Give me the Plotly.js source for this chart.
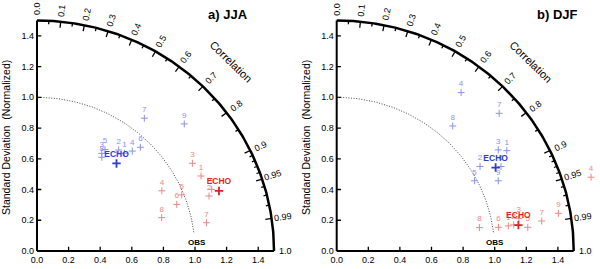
<!DOCTYPE html>
<html><head><meta charset="utf-8">
<script src="https://cdn.plot.ly/plotly-3.0.1.min.js"></script>
<style>html,body{margin:0;padding:0;background:#fff;}</style>
</head><body>
<div id="chart" style="width:600px;height:269px;"></div>
<script>
// ---- data (normalized standard deviation, correlation) ----
const modelLabels = ['1','2','3','4','5','6','7','8','9'];

// a) JJA
const jjaBlueStd  = [0.843, 0.836, 0.756, 0.887, 0.788, 0.940, 1.099, 0.735, 1.246];
const jjaBlueCorr = [0.656, 0.618, 0.542, 0.680, 0.546, 0.696, 0.618, 0.558, 0.748];
const jjaRedStd   = [1.147, 1.146, 1.137, 0.882, 0.986, 0.935, 1.088, 0.818, 1.176];
const jjaRedCorr  = [0.905, 0.950, 0.865, 0.896, 0.929, 0.946, 0.9856, 0.9642, 0.940];
const jjaEchoStd  = [0.760, 1.216];   // blue, red
const jjaEchoCorr = [0.662, 0.947];

// b) DJF
const djfBlueStd  = [1.259, 1.061, 1.216, 1.297, 0.985, 1.176, 1.364, 1.096, 1.120];
const djfBlueCorr = [0.855, 0.855, 0.841, 0.607, 0.886, 0.884, 0.754, 0.670, 0.913];
const djfRedStd   = [1.098, 1.133, 1.172, 1.680, 1.219, 1.035, 1.312, 0.916, 1.424];
const djfRedCorr  = [0.9889, 0.9887, 0.9835, 0.9583, 0.992, 0.9889, 0.9889, 0.9861, 0.9851];
const djfEchoStd  = [1.143, 1.162];
const djfEchoCorr = [0.880, 0.9895];

// ---- axes / diagram furniture ----
const stdTicks = [0, 0.2, 0.4, 0.6, 0.8, 1.0, 1.2, 1.4];
const stdTickText = ['0.0','0.2','0.4','0.6','0.8','1.0','1.2','1.4'];
const corrMajor = [0.1,0.2,0.3,0.4,0.5,0.6,0.7,0.8,0.9,0.95,0.99];
const corrMinor = [0.05,0.15,0.25,0.35,0.45,0.55,0.65,0.75,0.85,0.91,0.92,0.93,0.94,0.96,0.97,0.98];
const corrLabelVals = [0,0.1,0.2,0.3,0.4,0.5,0.6,0.7,0.8,0.9,0.95,0.99,1.0];
const corrLabelText = ['0.0','0.1','0.2','0.3','0.4','0.5','0.6','0.7','0.8','0.9','0.95','0.99','1.0'];
const maxStd = 1.5;
const refStd = 1.0;
const panelTitles = ['a) JJA', 'b) DJF'];

const lightBlue = '#8a90ee', darkBlue = '#2a3cd6';
const lightRed = '#f08585', darkRed = '#e21f26';
const FONT = 'Arial, "Liberation Sans", sans-serif';

function xy(std, corr) {
  return {x: std.map((s,i)=>s*corr[i]), y: std.map((s,i)=>s*Math.sqrt(Math.max(0,1-corr[i]*corr[i])))};
}

function arc(r, a0, a1) {
  const x=[], y=[];
  for (let a=a0; a<=a1+1e-9; a+=0.5) { const t=a*Math.PI/180; x.push(r*Math.cos(t)); y.push(r*Math.sin(t)); }
  return {x, y};
}

function panelTraces(xa, ya, bStd, bCorr, rStd, rCorr, eStd, eCorr) {
  const tr = [];
  const outer = arc(maxStd, 0, 90);
  tr.push({x: outer.x, y: outer.y, xaxis: xa, yaxis: ya, mode:'lines', line:{color:'#000', width:2.5}, hoverinfo:'skip'});
  // std-dev axis lines
  tr.push({x:[0, maxStd, null, 0, 0], y:[0, 0, null, 0, maxStd], xaxis: xa, yaxis: ya, mode:'lines', line:{color:'#000', width:2}, hoverinfo:'skip'});
  // std ticks (inside)
  const tx=[], ty=[];
  stdTicks.slice(1).forEach(t => { tx.push(t, t, null, 0, 0.027, null); ty.push(0, 0.028, null, t, t, null); });
  tr.push({x: tx, y: ty, xaxis: xa, yaxis: ya, mode:'lines', line:{color:'#000', width:1.3}, hoverinfo:'skip'});
  // correlation ticks on arc (inward)
  const cx=[], cy=[];
  corrMajor.forEach(c => { const s=Math.sqrt(1-c*c); cx.push(maxStd*c, (maxStd-0.04)*c, null); cy.push(maxStd*s, (maxStd-0.04)*s, null); });
  corrMinor.forEach(c => { const s=Math.sqrt(1-c*c); cx.push(maxStd*c, (maxStd-0.022)*c, null); cy.push(maxStd*s, (maxStd-0.022)*s, null); });
  tr.push({x: cx, y: cy, xaxis: xa, yaxis: ya, mode:'lines', line:{color:'#000', width:1.3}, hoverinfo:'skip'});
  // reference std arc (dotted)
  const ref = arc(refStd, 7, 90);
  tr.push({x: ref.x, y: ref.y, xaxis: xa, yaxis: ya, mode:'lines', line:{color:'#444', width:1, dash:'1px,1.6px'}, hoverinfo:'skip'});
  // models
  const b = xy(bStd, bCorr), r = xy(rStd, rCorr), e = xy(eStd, eCorr);
  const mk = (col) => ({symbol:'cross-thin', size:5, color:col, line:{color:col, width:1}});
  tr.push({x:b.x, y:b.y, xaxis:xa, yaxis:ya, mode:'markers+text', text:modelLabels, textposition:'top center',
           textfont:{size:8, color:lightBlue, family:FONT}, marker:mk(lightBlue), cliponaxis:false});
  tr.push({x:r.x, y:r.y, xaxis:xa, yaxis:ya, mode:'markers+text', text:modelLabels, textposition:'top center',
           textfont:{size:8, color:lightRed, family:FONT}, marker:mk(lightRed), cliponaxis:false});
  // ECHO
  tr.push({x:[e.x[0]], y:[e.y[0]], xaxis:xa, yaxis:ya, mode:'markers+text', text:['<b>ECHO</b>'], textposition:'top center',
           textfont:{size:8.5, color:darkBlue, family:FONT}, marker:{symbol:'cross-thin', size:6, color:darkBlue, line:{color:darkBlue, width:1.8}}, cliponaxis:false});
  tr.push({x:[e.x[1]], y:[e.y[1]], xaxis:xa, yaxis:ya, mode:'markers+text', text:['<b>ECHO</b>'], textposition:'top center',
           textfont:{size:8.5, color:darkRed, family:FONT}, marker:{symbol:'cross-thin', size:6, color:darkRed, line:{color:darkRed, width:1.8}}, cliponaxis:false});
  return tr;
}

function panelAnnots(xr, yr, title, titleX, yTitleX, obsX) {
  const labelR = 1.575;
  const an = corrLabelVals.map((c,i) => ({xref:xr, yref:yr, x:labelR*c, y:labelR*Math.sqrt(1-c*c),
     text: corrLabelText[i], textangle: -Math.acos(c)*180/Math.PI, showarrow:false,
     xanchor:'center', yanchor:'middle', font:{size:9, family:FONT, color:'#000'}}));
  an.push({xref:xr, yref:yr, x:1.74*Math.cos(Math.PI/4), y:1.74*Math.sin(Math.PI/4), text:'Correlation', textangle:44,
     showarrow:false, font:{size:11, family:FONT, color:'#000'}});
  an.push({xref:xr, yref:yr, x:obsX, y:0.052, text:'<b>OBS</b>', showarrow:false, font:{size:8, family:FONT, color:'#000'}});
  an.push({xref:'paper', yref:'paper', x:titleX, y:(269-15)/269, text:'<b>'+title+'</b>', showarrow:false,
     xanchor:'center', yanchor:'middle', font:{size:13, family:FONT, color:'#000'}});
  an.push({xref:'paper', yref:'paper', x:yTitleX, y:(269-138)/269, text:'Standard Deviation  (Normalized)', textangle:-90,
     showarrow:false, xanchor:'center', yanchor:'middle', font:{size:10.5, family:FONT, color:'#000'}});
  return an;
}

const axCommon = {showline:false, showgrid:false, zeroline:false, ticks:'', tickvals:stdTicks, ticktext:stdTickText,
  tickfont:{size:9, family:FONT, color:'#000'}, fixedrange:true};
const xRange = [-0.012, 1.66], yRange = [-0.012, 1.62];
const yDom = [16.2/269, 266.9/269];

const data = [].concat(
  panelTraces('x', 'y', jjaBlueStd, jjaBlueCorr, jjaRedStd, jjaRedCorr, jjaEchoStd, jjaEchoCorr),
  panelTraces('x2', 'y2', djfBlueStd, djfBlueCorr, djfRedStd, djfRedCorr, djfEchoStd, djfEchoCorr)
);

const layout = {
  width:600, height:269, margin:{l:0, r:0, t:0, b:0}, showlegend:false,
  paper_bgcolor:'#fff', plot_bgcolor:'rgba(0,0,0,0)', font:{family:FONT, color:'#000'},
  xaxis: Object.assign({}, axCommon, {domain:[35.1/600, 299.3/600], range:xRange, anchor:'y'}),
  yaxis: Object.assign({}, axCommon, {domain:yDom, range:yRange, anchor:'x'}),
  xaxis2: Object.assign({}, axCommon, {domain:[334.8/600, 599/600], range:xRange, anchor:'y2'}),
  yaxis2: Object.assign({}, axCommon, {domain:yDom, range:yRange, anchor:'x2'}),
  annotations: [].concat(
    panelAnnots('x', 'y', panelTitles[0], 228/600, 6/600, 1.013),
    panelAnnots('x2', 'y2', panelTitles[1], 557/600, 306/600, 1.004)
  )
};

Plotly.newPlot('chart', data, layout, {staticPlot:true, displayModeBar:false});
</script>
</body></html>
